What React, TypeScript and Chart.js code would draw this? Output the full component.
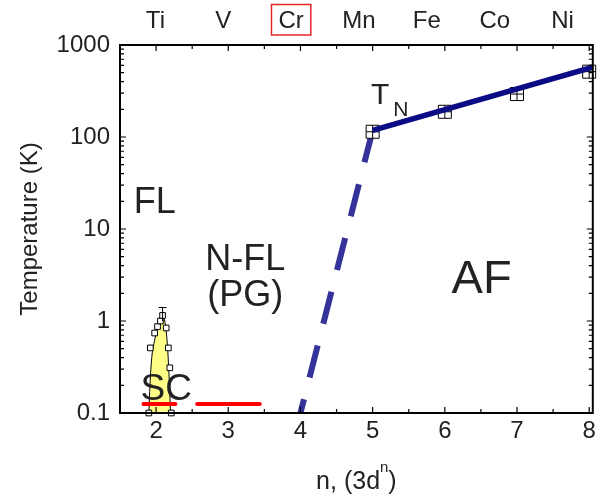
import React, { useEffect, useRef } from 'react';
import { Chart, registerables } from 'chart.js';

Chart.register(...registerables);

const FONT = "'Liberation Sans', Arial, Helvetica, sans-serif";

// Axis ticks / category labels
const xTicks = [2, 3, 4, 5, 6, 7, 8];
const yTicks = [0.1, 1, 10, 100, 1000];
const elements = ['Ti', 'V', 'Cr', 'Mn', 'Fe', 'Co', 'Ni'];

// Neel temperature data (squares) and fitted line
const tnN = [5, 6, 7, 8];
const tnT = [114, 188, 293, 513];
const tnFitN = [5.0, 8.05];
const tnFitT = [118, 575];

// Extrapolated (dashed) T_N
const dashN = [5.0, 4.0];
const dashT = [118, 0.1];

// Superconducting dome data points
const scN = [1.90, 1.92, 1.98, 2.02, 2.06, 2.09, 2.14, 2.17, 2.19, 2.21];
const scT = [0.1, 0.51, 0.74, 0.87, 1.0, 1.15, 0.84, 0.51, 0.31, 0.1];
const scErrN = [2.09];
const scErrLow = [1.0];
const scErrHigh = [1.4];

// Shaded SC dome outline
const domeN = [1.90, 1.915, 1.94, 1.98, 2.03, 2.09, 2.13, 2.16, 2.18, 2.20];
const domeT = [0.1, 0.2, 0.4, 0.62, 0.88, 1.12, 0.9, 0.5, 0.25, 0.1];

// Red horizontal lines (SC / PG)
const scLineN = [1.825, 2.267];
const scLineT = [0.125, 0.125];
const pgLineN = [2.569, 3.436];
const pgLineT = [0.125, 0.125];

const pts = (xs: number[], ys: number[]) => xs.map((x, i) => ({ x, y: ys[i] }));

const annotations = [
  { text: 'FL', n: 1.98, T: 19, size: 36 },
  { text: 'N-FL', n: 3.236, T: 4.6, size: 36 },
  { text: '(PG)', n: 3.236, T: 1.87, size: 36 },
  { text: 'AF', n: 6.51, T: 2.8, size: 47 },
  { text: 'SC', n: 2.14, T: 0.178, size: 37 },
  { text: 'T', n: 5.104, T: 279, size: 30 },
  { text: 'N', n: 5.39, T: 194, size: 21 },
];

const decorPlugin = {
  id: 'decor',
  afterDatasetsDraw(chart: any) {
    const { ctx, chartArea: a, scales } = chart;
    const x = scales.x;
    const y = scales.y;
    ctx.save();

    // error bars
    ctx.strokeStyle = '#000';
    ctx.lineWidth = 1;
    ctx.beginPath();
    scErrN.forEach((n, i) => {
      const px = x.getPixelForValue(n);
      const p1 = y.getPixelForValue(scErrLow[i]);
      const p2 = y.getPixelForValue(scErrHigh[i]);
      ctx.moveTo(px, p1);
      ctx.lineTo(px, p2);
      ctx.moveTo(px - 4, p2);
      ctx.lineTo(px + 4, p2);
    });
    ctx.stroke();

    // annotations
    ctx.fillStyle = '#222';
    ctx.textAlign = 'center';
    ctx.textBaseline = 'middle';
    annotations.forEach((an) => {
      ctx.font = `${an.size}px ${FONT}`;
      ctx.fillText(an.text, x.getPixelForValue(an.n), y.getPixelForValue(an.T));
    });

    // inward ticks
    ctx.strokeStyle = '#000';
    ctx.lineWidth = 1.2;
    ctx.beginPath();
    for (let k = 3; k <= 16; k++) {
      const v = k / 2;
      const px = x.getPixelForValue(v);
      if (px < a.left - 0.5 || px > a.right + 0.5) continue;
      const len = k % 2 === 0 ? 6 : 4;
      ctx.moveTo(px, a.bottom);
      ctx.lineTo(px, a.bottom - len);
      ctx.moveTo(px, a.top);
      ctx.lineTo(px, a.top + len);
    }
    [0.1, 1, 10, 100].forEach((d) => {
      for (let k = 1; k <= 10; k++) {
        const py = y.getPixelForValue(d * k);
        const len = k === 1 || k === 10 ? 6 : 4;
        ctx.moveTo(a.left, py);
        ctx.lineTo(a.left + len, py);
        ctx.moveTo(a.right, py);
        ctx.lineTo(a.right - len, py);
      }
    });
    ctx.stroke();

    // frame
    ctx.lineWidth = 2;
    ctx.strokeRect(a.left, a.top, a.right - a.left, a.bottom - a.top);

    // red box around Cr
    const xt = scales.xTop;
    ctx.font = `24px ${FONT}`;
    const w = ctx.measureText(elements[2]).width + 14;
    const cx = xt.getPixelForValue(2);
    ctx.strokeStyle = '#e3262b';
    ctx.lineWidth = 1.5;
    ctx.strokeRect(cx - w / 2, 4.5, w, 30.5);

    // x-axis title with superscript
    const main = 'n, (3d';
    const sup = 'n';
    const close = ')';
    ctx.fillStyle = '#222';
    ctx.textBaseline = 'alphabetic';
    ctx.textAlign = 'left';
    ctx.font = `25px ${FONT}`;
    const w1 = ctx.measureText(main).width;
    const w3 = ctx.measureText(close).width;
    ctx.font = `15px ${FONT}`;
    const w2 = ctx.measureText(sup).width;
    const total = w1 + w2 + w3;
    const start = (a.left + a.right) / 2 - total / 2;
    const base = 489;
    ctx.font = `25px ${FONT}`;
    ctx.fillText(main, start, base);
    ctx.font = `15px ${FONT}`;
    ctx.fillText(sup, start + w1, base - 17);
    ctx.font = `25px ${FONT}`;
    ctx.fillText(close, start + w1 + w2, base);

    ctx.restore();
  },
};

export default function App() {
  const ref = useRef<HTMLCanvasElement | null>(null);

  useEffect(() => {
    if (!ref.current) return;
    Chart.defaults.font.family = FONT;
    const zero = (s: any) => {
      s.paddingLeft = 0;
      s.paddingRight = 0;
      s.paddingTop = 0;
      s.paddingBottom = 0;
    };
    const chart = new Chart(ref.current, {
      type: 'scatter',
      data: {
        datasets: [
          {
            label: 'TN fit',
            data: pts(tnFitN, tnFitT),
            showLine: true,
            borderColor: '#0b0b85',
            borderWidth: 5.5,
            pointRadius: 0,
            order: 1,
          } as any,
          {
            label: 'TN cross',
            data: pts(tnN, tnT),
            pointStyle: 'cross',
            pointRadius: 6.5,
            pointBorderColor: '#000',
            pointBorderWidth: 1,
            order: 2,
            clip: false,
          },
          {
            label: 'TN',
            data: pts(tnN, tnT),
            pointStyle: 'rect',
            pointRadius: 9.2,
            pointBackgroundColor: '#fff',
            pointBorderColor: '#000',
            pointBorderWidth: 1,
            order: 3,
            clip: false,
          },
          {
            label: 'TN extrapolated',
            data: pts(dashN, dashT),
            showLine: true,
            borderColor: '#333399',
            borderWidth: 6,
            borderDash: [33, 22.5],
            pointRadius: 0,
            order: 4,
          } as any,
          {
            label: 'SC error',
            data: pts(scN, scT),
            pointStyle: 'rect',
            pointRadius: 4,
            pointBackgroundColor: '#fff',
            pointBorderColor: '#000',
            pointBorderWidth: 1,
            order: 5,
            clip: false,
          },
          {
            label: 'SC line',
            data: pts(scLineN, scLineT),
            showLine: true,
            borderColor: '#ff0000',
            borderWidth: 4,
            borderCapStyle: 'round',
            pointRadius: 0,
            order: 6,
          } as any,
          {
            label: 'PG line',
            data: pts(pgLineN, pgLineT),
            showLine: true,
            borderColor: '#ff0000',
            borderWidth: 4,
            borderCapStyle: 'round',
            pointRadius: 0,
            order: 7,
          } as any,
          {
            label: 'SC dome',
            data: pts(domeN, domeT),
            showLine: true,
            fill: 'start',
            backgroundColor: '#ffff88',
            borderColor: '#000',
            borderWidth: 1,
            cubicInterpolationMode: 'monotone',
            pointRadius: 0,
            order: 8,
          } as any,
        ],
      },
      options: {
        animation: false,
        responsive: true,
        maintainAspectRatio: false,
        layout: { padding: { left: 0, right: 5, top: 0, bottom: 0 } },
        plugins: {
          legend: { display: false },
          tooltip: { enabled: false },
        },
        scales: {
          x: {
            type: 'linear',
            position: 'bottom',
            min: 1.5,
            max: 8.05,
            grid: { display: false, drawTicks: false },
            border: { display: false },
            ticks: {
              padding: 4,
              color: '#222',
              font: { size: 24, family: FONT },
              callback: (v: any) => String(v),
            },
            afterBuildTicks: (s: any) => {
              s.ticks = xTicks.map((v) => ({ value: v }));
            },
            afterFit: (s: any) => {
              s.height = 83;
              zero(s);
            },
          },
          xTop: {
            type: 'linear',
            axis: 'x',
            position: 'top',
            min: -0.522,
            max: 6.445,
            grid: { display: false, drawTicks: false },
            border: { display: false },
            ticks: {
              padding: 9,
              color: '#222',
              font: { size: 24, family: FONT },
              callback: (v: any) => elements[Math.round(v)] ?? '',
            },
            afterBuildTicks: (s: any) => {
              s.ticks = elements.map((_, i) => ({ value: i }));
            },
            afterFit: (s: any) => {
              s.height = 45;
              zero(s);
            },
          },
          y: {
            type: 'logarithmic',
            position: 'left',
            min: 0.1,
            max: 1000,
            grid: { display: false, drawTicks: false },
            border: { display: false },
            ticks: {
              padding: 10,
              color: '#222',
              font: { size: 24, family: FONT },
              callback: (v: any) => String(v),
            },
            afterBuildTicks: (s: any) => {
              s.ticks = yTicks.map((v) => ({ value: v }));
            },
            title: {
              display: true,
              text: 'Temperature (K)',
              color: '#222',
              font: { size: 24, family: FONT },
              padding: { top: 16, bottom: 0 },
            },
            afterFit: (s: any) => {
              s.width = 120;
              zero(s);
            },
          },
        },
      } as any,
      plugins: [decorPlugin],
    });
    return () => chart.destroy();
  }, []);

  return (
    <div style={{ position: 'absolute', left: 0, top: 0, width: 603, height: 496, background: '#fff' }}>
      <canvas ref={ref} />
    </div>
  );
}
